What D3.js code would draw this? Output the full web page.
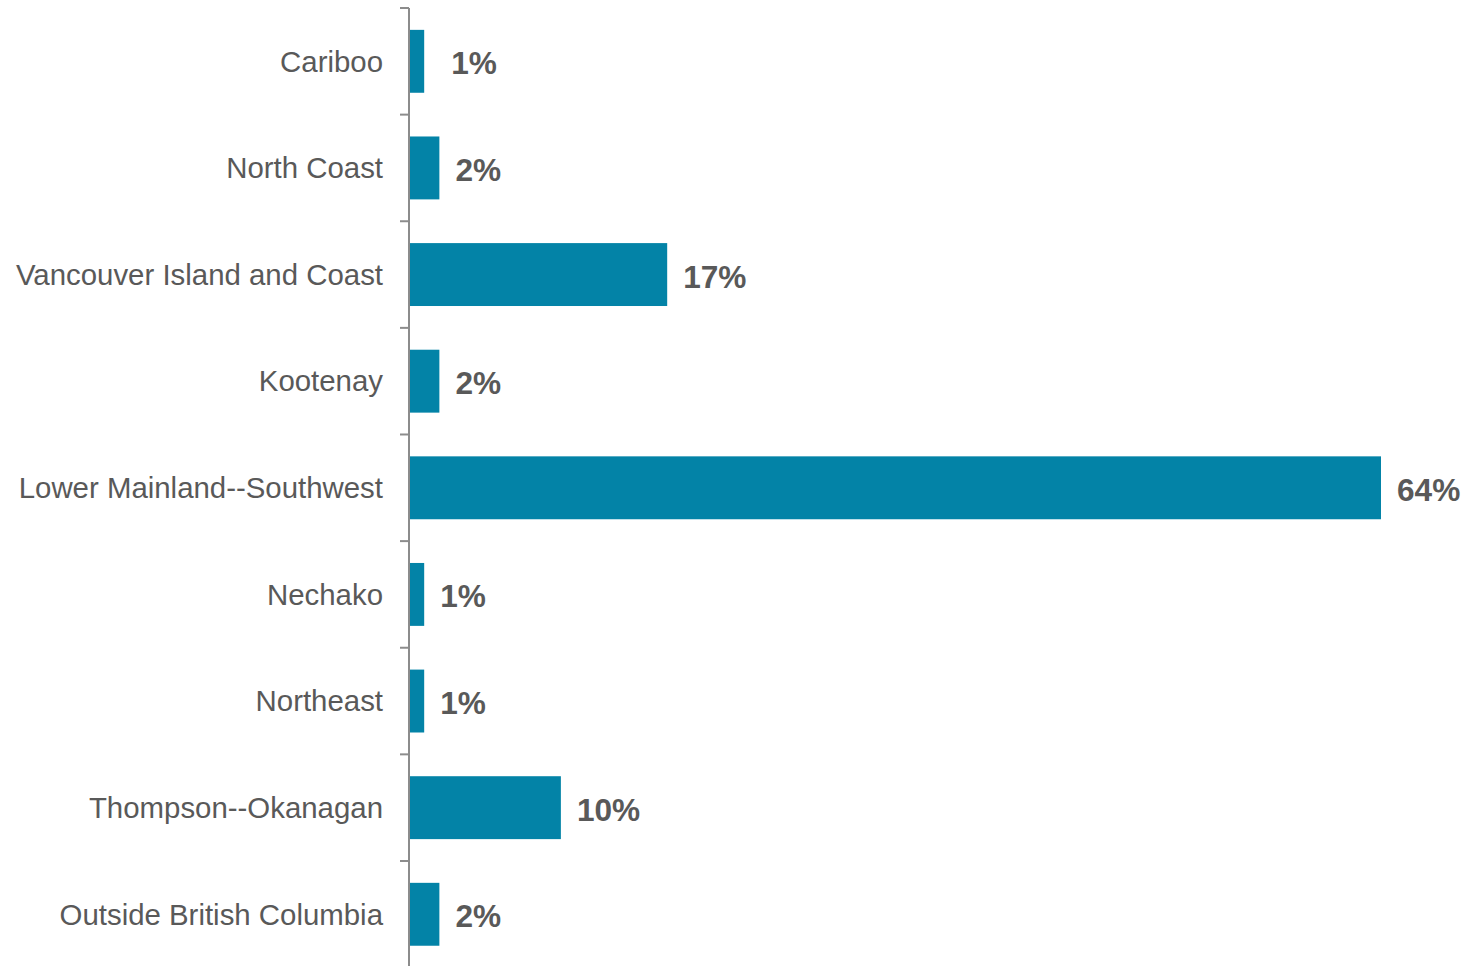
<!DOCTYPE html>
<html>
<head>
<meta charset="utf-8">
<script src="https://cdn.jsdelivr.net/npm/d3@7/dist/d3.min.js"></script>
<style>
  html, body { margin: 0; padding: 0; background: #fff; }
  svg { display: block; }
</style>
</head>
<body>
<svg id="chart" width="1470" height="966"></svg>
<script>
const categories = [
  "Cariboo",
  "North Coast",
  "Vancouver Island and Coast",
  "Kootenay",
  "Lower Mainland--Southwest",
  "Nechako",
  "Northeast",
  "Thompson--Okanagan",
  "Outside British Columbia"
];
const values = [1, 2, 17, 2, 64, 1, 1, 10, 2];
const valueLabels = ["1%", "2%", "17%", "2%", "64%", "1%", "1%", "10%", "2%"];

const svg = d3.select("#chart");
const axisX = 409;
const plotTop = 8, plotBottom = 967.6;

const x = d3.scaleLinear().domain([0, 64]).range([axisX, 1381]);
const y = d3.scaleBand().domain(categories).range([plotTop, plotBottom])
  .paddingInner(0.41).paddingOuter(0.205);

const textColor = "#595959";
const barColor = "#0383a7";
const axisColor = "#8c8c8c";

// bars
svg.append("g").selectAll("rect")
  .data(categories)
  .join("rect")
  .attr("x", axisX)
  .attr("y", d => y(d))
  .attr("width", (d, i) => x(values[i]) - axisX)
  .attr("height", y.bandwidth())
  .attr("fill", barColor);

// axis line and ticks
const step = y.step();
const g = svg.append("g");
g.append("line")
  .attr("x1", axisX).attr("x2", axisX)
  .attr("y1", plotTop).attr("y2", 966)
  .attr("stroke", axisColor).attr("stroke-width", 2);
const tickYs = d3.range(categories.length).map(i => plotTop + i * step);
g.selectAll("line.tick").data(tickYs).join("line")
  .attr("class", "tick")
  .attr("x1", axisX - 9).attr("x2", axisX)
  .attr("y1", d => d).attr("y2", d => d)
  .attr("stroke", axisColor).attr("stroke-width", 2);

// category labels
svg.append("g").selectAll("text")
  .data(categories)
  .join("text")
  .attr("x", 383)
  .attr("y", d => y(d) + y.bandwidth() / 2)
  .attr("dy", "0.35em")
  .attr("text-anchor", "end")
  .attr("font-family", "Liberation Sans, Arial, sans-serif")
  .attr("font-size", 29.4)
  .attr("fill", textColor)
  .text(d => d);

// value labels
svg.append("g").selectAll("text")
  .data(categories)
  .join("text")
  .attr("x", (d, i) => x(values[i]) + 16 + (i === 0 ? 11 : 0))
  .attr("y", d => y(d) + y.bandwidth() / 2 + 2)
  .attr("dy", "0.35em")
  .attr("font-family", "Liberation Sans, Arial, sans-serif")
  .attr("font-size", 31.6)
  .attr("font-weight", "bold")
  .attr("fill", textColor)
  .text((d, i) => valueLabels[i]);
</script>
</body>
</html>
